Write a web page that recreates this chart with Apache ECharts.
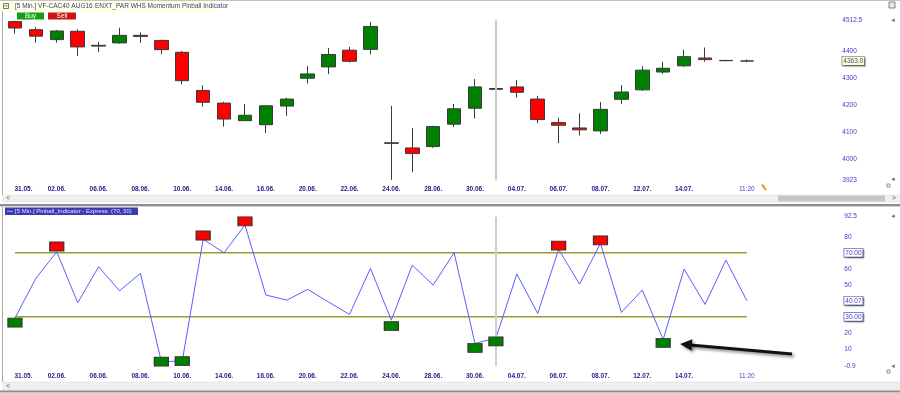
<!DOCTYPE html>
<html><head><meta charset="utf-8">
<script src="https://cdn.jsdelivr.net/npm/echarts@6/dist/echarts.min.js"></script>
<style>html,body{margin:0;padding:0;background:#fff}#c{width:900px;height:393px}</style>
</head><body><div id="c"></div>
<script>
// ---------- DATA ----------
const categories = ['31.05.','01.06.','02.06.','03.06.','06.06.','07.06.','08.06.','09.06.','10.06.','13.06.','14.06.','15.06.','16.06.','17.06.','20.06.','21.06.','22.06.','23.06.','24.06.','27.06.','28.06.','29.06.','30.06.','01.07.','04.07.','05.07.','06.07.','07.07.','08.07.','11.07.','12.07.','13.07.','14.07.','15.07.','18.07.','11:20'];
const openP  = [4509,4479,4442,4473,4418,4430,4458,4439,4395,4254,4207,4142,4127,4196,4299,4341,4403,4406,4058,4041,4046,4129,4188,4261,4267,4222,4135,4115,4104,4221,4256,4322,4345,4374,4364,4363];
const closeP = [4485,4455,4474,4415,4421,4458,4454,4405,4290,4210,4148,4162,4197,4222,4315,4387,4362,4491,4060,4020,4120,4186,4267,4258,4247,4146,4125,4108,4184,4248,4329,4336,4379,4368,4365,4363];
const lowP   = [4464,4431,4431,4382,4396,4427,4430,4388,4277,4194,4120,4142,4096,4160,4280,4314,4357,4387,3923,3951,4041,4118,4150,4212,4228,4133,4059,4087,4093,4204,4252,4315,4341,4360,4362,4358];
const highP  = [4512,4488,4478,4480,4433,4486,4469,4442,4400,4273,4212,4203,4198,4227,4344,4411,4415,4507,4197,4114,4123,4204,4296,4280,4292,4234,4153,4169,4211,4274,4344,4360,4405,4413,4367,4368];
const pinball = [29.2,54,70.6,38.75,61.25,46.25,57.1,2.0,2.4,78.4,70,87.3,43.6,40.4,47.1,39.2,31.5,60.25,27.9,62.3,49.8,70,13.4,16.7,56.7,32.1,72.1,50.4,75.9,32.75,46.7,15.9,59.8,37.75,65.4,40.07];
const upperLevel = 70;
const lowerLevel = 30;
const buyMarkers  = [[0,26.4],[7,2.06],[8,2.3],[18,24.2],[22,10.6],[23,14.6],[31,13.7]];
const sellMarkers = [[2,73.9],[9,80.75],[11,89.6],[26,74.5],[28,77.75]];
const priceTicks = [3923,4000,4100,4200,4300,4400,4512.5];
const priceTickLabels = ['3923','4000','4100','4200','4300','4400','4512.5'];
const lastPrice = 4363.0;
const indTicks = [-0.9,10,20,30,40.07,50,60,70,80,92.5];
const indTickLabels = ['-0.9','10','20','30.00','40.07','50','60','70.00','80','92.5'];
const boxedIndLabels = ['30.00','40.07','70.00'];
const cursorIndex = 23;

// ---------- CHART ----------
const FF = '"Liberation Sans", Arial, sans-serif';
const font = (s, w) => (w || 'normal') + ' ' + s + 'px ' + FF;
const chart = echarts.init(document.getElementById('c'), null, {renderer: 'canvas'});

const candleData = categories.map((_, i) => [openP[i], closeP[i], lowP[i], highP[i]]);

const xLabelFormatter = (value, index) => {
  if (index === categories.length - 1) return '{t|' + value + '}';
  if (index % 2 === 0 && index <= 32) return index === 0 ? '{f|' + value + '}' : value;
  return '';
};
const xAxisCommon = {
  type: 'category', data: categories, boundaryGap: true,
  axisLine: {show: false}, axisTick: {show: false}, splitLine: {show: false},
  axisLabel: {
    interval: 0, margin: 6, fontSize: 6.5, fontWeight: 'bold', color: '#22228a', fontFamily: FF,
    formatter: xLabelFormatter,
    rich: {
      f: {padding: [0, 0, 0, 17], fontSize: 6.5, fontWeight: 'bold', color: '#22228a', fontFamily: FF},
      t: {fontSize: 6.5, fontWeight: 'normal', color: '#4a4ad0', fontFamily: FF}
    }
  }
};
const boxRich = (bg, border) => ({
  backgroundColor: bg, borderColor: border, borderWidth: 0.8, padding: [1, 1, 0, 1],
  color: '#3c3cc8', fontSize: 6.5, fontFamily: FF,
  shadowColor: 'rgba(0,0,0,0.35)', shadowOffsetX: 1, shadowOffsetY: 1, shadowBlur: 1
});

const option = {
  animation: false,
  backgroundColor: '#ffffff',
  grid: [
    {left: 4.5, width: 752.8, top: 20.6, height: 159.2},
    {left: 4.5, width: 752.8, top: 216.7, height: 149.6}
  ],
  xAxis: [
    Object.assign({gridIndex: 0}, xAxisCommon),
    Object.assign({gridIndex: 1}, xAxisCommon)
  ],
  yAxis: [
    {
      gridIndex: 0, type: 'value', position: 'right', min: 3923, max: 4512.5,
      axisLine: {show: false}, axisTick: {show: false}, splitLine: {show: false},
      axisLabel: {
        customValues: priceTicks.concat([lastPrice]),
        margin: 85, fontSize: 6.5, color: '#3c3cc8', fontFamily: FF,
        formatter: v => {
          if (Math.abs(v - lastPrice) < 1e-6) return '{b|' + lastPrice.toFixed(1) + '}';
          const i = priceTicks.indexOf(v);
          return i >= 0 ? priceTickLabels[i] : '';
        },
        rich: {b: boxRich('#ffffc4', '#8c8c8c')}
      }
    },
    {
      gridIndex: 1, type: 'value', position: 'right', min: -0.9, max: 92.5,
      axisLine: {show: false}, axisTick: {show: false}, splitLine: {show: false},
      axisLabel: {
        customValues: indTicks,
        margin: 87, fontSize: 6.5, color: '#3c3cc8', fontFamily: FF,
        formatter: v => {
          const i = indTicks.indexOf(v);
          if (i < 0) return '';
          const s = indTickLabels[i];
          return boxedIndLabels.indexOf(s) >= 0 ? '{b|' + s + '}' : s;
        },
        rich: {b: boxRich('#ffffff', '#6a6ab8')}
      }
    }
  ],
  series: [
    {
      type: 'candlestick', xAxisIndex: 0, yAxisIndex: 0, data: candleData, barWidth: 14,
      itemStyle: {color: '#008000', color0: '#ff0000', borderColor: '#3a3a3a', borderColor0: '#3a3a3a', borderWidth: 1},
      markLine: {
        silent: true, symbol: 'none', label: {show: false},
        lineStyle: {color: '#c8c8c8', width: 2, type: 'solid'},
        data: [{xAxis: cursorIndex}]
      }
    },
    {
      type: 'line', xAxisIndex: 1, yAxisIndex: 1, data: categories.map(() => upperLevel),
      symbol: 'none', lineStyle: {color: '#9b9b2a', width: 1.5}, z: 1
    },
    {
      type: 'line', xAxisIndex: 1, yAxisIndex: 1, data: categories.map(() => lowerLevel),
      symbol: 'none', lineStyle: {color: '#9b9b2a', width: 1.5}, z: 1
    },
    {
      type: 'line', xAxisIndex: 1, yAxisIndex: 1, data: pinball,
      symbol: 'none', lineStyle: {color: '#5c5cff', width: 1}, z: 2,
      markLine: {
        silent: true, symbol: 'none', label: {show: false},
        lineStyle: {color: '#cfcfcf', width: 2, type: 'solid'},
        data: [{xAxis: cursorIndex}]
      }
    },
    {
      type: 'scatter', xAxisIndex: 1, yAxisIndex: 1, data: buyMarkers, symbol: 'rect', symbolSize: [14, 9], z: 5,
      itemStyle: {color: '#008000', borderColor: '#333', borderWidth: 1, opacity: 1}
    },
    {
      type: 'scatter', xAxisIndex: 1, yAxisIndex: 1, data: sellMarkers, symbol: 'rect', symbolSize: [14, 9], z: 5,
      itemStyle: {color: '#ff0000', borderColor: '#333', borderWidth: 1, opacity: 1}
    }
  ],
  graphic: [
    // frames
    {type: 'rect', silent: true, shape: {x: 0, y: 0, width: 900, height: 1}, style: {fill: '#c4c4c4'}},
    {type: 'rect', silent: true, shape: {x: 2, y: 0, width: 1, height: 195}, style: {fill: '#a8a8a8'}},
    {type: 'rect', silent: true, shape: {x: 2, y: 207, width: 1, height: 175}, style: {fill: '#a8a8a8'}},
    // top scrollbar
    {type: 'rect', silent: true, shape: {x: 3, y: 195, width: 896, height: 7}, style: {fill: '#f0f0f0', stroke: '#dadada', lineWidth: 0.5}},
    {type: 'rect', silent: true, shape: {x: 778, y: 195.5, width: 107, height: 6}, style: {fill: '#c6c6c6'}},
    {type: 'text', silent: true, style: {text: '<', x: 6, y: 198.5, fill: '#555', font: font(7), verticalAlign: 'middle'}},
    {type: 'text', silent: true, style: {text: '>', x: 892, y: 198.5, fill: '#555', font: font(7), verticalAlign: 'middle'}},
    // separator
    {type: 'rect', silent: true, shape: {x: 0, y: 204, width: 900, height: 2}, style: {fill: '#8e8e8e'}},
    {type: 'rect', silent: true, shape: {x: 0, y: 206, width: 900, height: 1}, style: {fill: '#d4d4d4'}},
    // bottom scrollbar
    {type: 'rect', silent: true, shape: {x: 3, y: 382, width: 896, height: 8}, style: {fill: '#f0f0f0', stroke: '#dadada', lineWidth: 0.5}},
    {type: 'text', silent: true, style: {text: '<', x: 6, y: 386, fill: '#555', font: font(7), verticalAlign: 'middle'}},
    {type: 'rect', silent: true, shape: {x: 0, y: 390.5, width: 900, height: 2}, style: {fill: '#8e8e8e'}},
    // right edge marks
    {type: 'text', silent: true, style: {text: '◄', x: 890, y: 20.6, fill: '#707070', font: font(6), verticalAlign: 'middle'}},
    {type: 'text', silent: true, style: {text: '◄', x: 890, y: 179.8, fill: '#707070', font: font(6), verticalAlign: 'middle'}},
    {type: 'text', silent: true, style: {text: '◄', x: 890, y: 216.7, fill: '#707070', font: font(6), verticalAlign: 'middle'}},
    {type: 'text', silent: true, style: {text: '◄', x: 890, y: 366.3, fill: '#707070', font: font(6), verticalAlign: 'middle'}},
    {type: 'rect', silent: true, shape: {x: 887, y: 184, width: 3, height: 3}, style: {fill: 'none', stroke: '#777', lineWidth: 0.8}},
    {type: 'rect', silent: true, shape: {x: 887, y: 370, width: 3, height: 3}, style: {fill: 'none', stroke: '#777', lineWidth: 0.8}},
    {type: 'rect', silent: true, shape: {x: 889, y: 2, width: 6, height: 6}, style: {fill: '#e8e8e8', stroke: '#666', lineWidth: 0.8}},
    // header
    {type: 'rect', silent: true, shape: {x: 0, y: 1, width: 217, height: 10.5}, style: {fill: '#ffffe2'}},
    {type: 'rect', silent: true, shape: {x: 3.5, y: 3.5, width: 5, height: 5}, style: {fill: '#fff', stroke: '#555', lineWidth: 0.8}},
    {type: 'rect', silent: true, shape: {x: 4.5, y: 5.5, width: 3, height: 0.8}, style: {fill: '#333'}},
    {type: 'text', silent: true, style: {text: '[5 Min.] VF-CAC40 AUG16', x: 15, y: 6.5, fill: '#36369a', font: font(6.5), verticalAlign: 'middle'}},
    {type: 'text', silent: true, style: {text: 'ENXT_PAR WHS Momentum Pinball Indicator', x: 95, y: 6.5, fill: '#3d3d86', font: font(6.5), verticalAlign: 'middle'}},
    {type: 'rect', silent: true, shape: {x: 17, y: 12.5, width: 27, height: 7}, style: {fill: '#14a014'}},
    {type: 'text', silent: true, style: {text: 'Buy', x: 30.5, y: 16.2, fill: '#ffffff', font: font(6.5), align: 'center', verticalAlign: 'middle'}},
    {type: 'rect', silent: true, shape: {x: 48, y: 12.5, width: 28, height: 7}, style: {fill: '#cc1212'}},
    {type: 'text', silent: true, style: {text: 'Sell', x: 62, y: 16.2, fill: '#ffffff', font: font(6.5), align: 'center', verticalAlign: 'middle'}},
    // bottom legend
    {type: 'rect', silent: true, shape: {x: 5, y: 207.5, width: 133, height: 7.5}, style: {fill: '#3b3bb2'}},
    {type: 'rect', silent: true, shape: {x: 7, y: 210.8, width: 6, height: 1}, style: {fill: '#a8a8ff'}},
    {type: 'text', silent: true, style: {text: '[5 Min.] Pinball_Indicator - Express  (70, 30)', x: 15, y: 211.4, fill: '#e2e2ff', font: font(6), verticalAlign: 'middle'}},
    // pencil icon near last label
    {type: 'polygon', silent: true, shape: {points: [[761, 185], [763, 184], [767, 189.5], [765, 190.5]]}, style: {fill: '#f2a020'}},
    // annotation arrow
    {type: 'line', silent: true, shape: {x1: 792, y1: 354, x2: 690, y2: 345},
      style: {stroke: '#111', lineWidth: 3, shadowBlur: 3, shadowColor: 'rgba(0,0,0,0.45)', shadowOffsetX: 2, shadowOffsetY: 2}},
    {type: 'polygon', silent: true, shape: {points: [[680, 344], [692.4, 339.3], [691.5, 350.8]]},
      style: {fill: '#111', shadowBlur: 3, shadowColor: 'rgba(0,0,0,0.45)', shadowOffsetX: 2, shadowOffsetY: 2}}
  ]
};
chart.setOption(option);
</script>
</body></html>
